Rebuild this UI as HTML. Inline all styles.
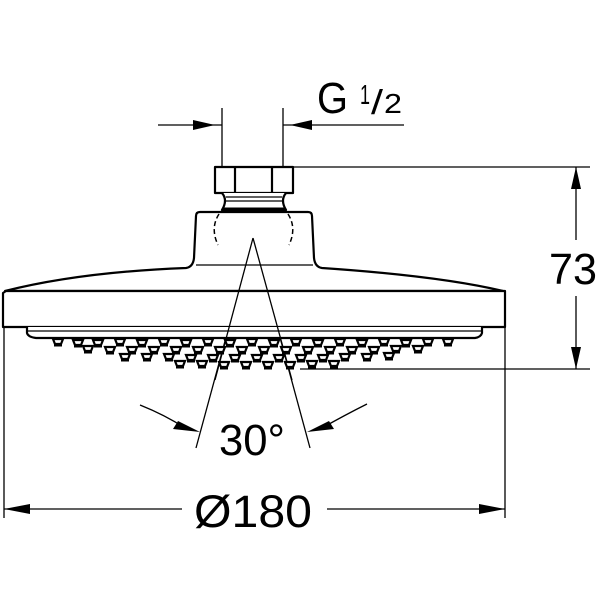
<!DOCTYPE html>
<html><head><meta charset="utf-8"><style>html,body{margin:0;padding:0;background:#fff}svg{display:block}</style></head>
<body>
<svg width="600" height="600" viewBox="0 0 600 600" xmlns="http://www.w3.org/2000/svg">
<defs>
<g id="nz"><path d="M-5,-3 H5 L3,2 H-3 Z" fill="#fff" stroke="#000" stroke-width="2.2"/><rect x="-4" y="1.5" width="8" height="3" fill="#000"/></g>
</defs>
<g fill="none" stroke="#000" stroke-width="1.3">
<line x1="222" y1="108" x2="222" y2="167"/>
<line x1="283" y1="108" x2="283" y2="167"/>
<line x1="158" y1="125" x2="222" y2="125"/>
<line x1="283" y1="125" x2="404" y2="125"/>
<line x1="293" y1="167" x2="590" y2="167"/>
<line x1="300" y1="369" x2="590" y2="369"/>
<line x1="576" y1="167" x2="576" y2="240"/>
<line x1="576" y1="296" x2="576" y2="369"/>
<line x1="4" y1="292" x2="4" y2="518"/>
<line x1="505" y1="327" x2="505" y2="518"/>
<line x1="4" y1="509" x2="182" y2="509"/>
<line x1="327" y1="509" x2="505" y2="509"/>
<line x1="253" y1="238" x2="196" y2="448"/>
<line x1="253" y1="238" x2="310" y2="448"/>
<path d="M140,405 Q165,415 185,428"/>
<path d="M367,404 Q345,415 322,428"/>
</g>
<g fill="#000">
<polygon points="215,125 193,120 193,130"/>
<polygon points="290,125 312,120 312,130"/>
<polygon points="576,167 571,189 581,189"/>
<polygon points="576,369 571,347 581,347"/>
<polygon points="4,509 30,504 30,514"/>
<polygon points="505,509 479,504 479,514"/>
<polygon points="200,432 178,421 173,429"/>
<polygon points="307,432 329,421 334,429"/>
</g>
<g fill="#fff" stroke="#000" stroke-width="2.2" stroke-linejoin="round">
<path d="M5,291 Q80,272 186,268 Q193,267 194,258 L196,216 Q196,212 200,212 H308 Q312,212 312,216 L314,258 Q315,267 322,268 Q440,276 503,291 Z"/>
<path d="M3,293 L6,291 H505 V327 H3 Z"/>
<path d="M27,327 V333 Q28,337 36,338 H475 Q481,337 482,333 V327"/>
<line x1="28" y1="331" x2="481" y2="331" stroke-width="1.2"/>
<line x1="196" y1="265" x2="313" y2="265" stroke-width="1.2"/>
<rect x="215" y="167" width="78" height="26"/>
<line x1="235" y1="167" x2="235" y2="193"/>
<line x1="272" y1="167" x2="272" y2="193"/>
<path d="M222,193 Q228,200 222,210 H286 Q280,200 286,193"/>
</g>
<g stroke="#000" fill="none">
<line x1="226" y1="197" x2="282" y2="197" stroke-width="1.2"/>
<line x1="226" y1="201" x2="282" y2="201" stroke-width="1.2"/>
<line x1="223" y1="209" x2="285" y2="209" stroke-width="3"/>
<path d="M219,214 Q210,228 218,245" stroke-width="1.5" stroke-dasharray="5,3"/>
<path d="M288,214 Q297,228 289,245" stroke-width="1.5" stroke-dasharray="5,3"/>
<line x1="253" y1="238" x2="215" y2="380" stroke-width="1.3"/>
<line x1="253" y1="238" x2="292" y2="380" stroke-width="1.3"/>
</g>
<g>
<use href="#nz" x="58" y="342"/><use href="#nz" x="78" y="343"/><use href="#nz" x="98" y="343"/><use href="#nz" x="120" y="342"/><use href="#nz" x="142" y="343"/><use href="#nz" x="164" y="342"/><use href="#nz" x="186" y="343"/><use href="#nz" x="208" y="342"/><use href="#nz" x="230" y="343"/><use href="#nz" x="252" y="342"/><use href="#nz" x="274" y="343"/><use href="#nz" x="296" y="342"/><use href="#nz" x="318" y="343"/><use href="#nz" x="340" y="342"/><use href="#nz" x="362" y="343"/><use href="#nz" x="384" y="342"/><use href="#nz" x="406" y="343"/><use href="#nz" x="428" y="342"/><use href="#nz" x="448" y="342"/>
<use href="#nz" x="88" y="349"/><use href="#nz" x="110" y="350"/><use href="#nz" x="132" y="350"/><use href="#nz" x="154" y="350"/><use href="#nz" x="176" y="350"/><use href="#nz" x="198" y="350"/><use href="#nz" x="220" y="350"/><use href="#nz" x="242" y="350"/><use href="#nz" x="264" y="350"/><use href="#nz" x="286" y="350"/><use href="#nz" x="308" y="350"/><use href="#nz" x="330" y="350"/><use href="#nz" x="352" y="350"/><use href="#nz" x="374" y="350"/><use href="#nz" x="396" y="349"/><use href="#nz" x="418" y="349"/>
<use href="#nz" x="125" y="357"/><use href="#nz" x="147" y="357"/><use href="#nz" x="169" y="357"/><use href="#nz" x="191" y="358"/><use href="#nz" x="213" y="358"/><use href="#nz" x="235" y="358"/><use href="#nz" x="257" y="358"/><use href="#nz" x="279" y="358"/><use href="#nz" x="301" y="358"/><use href="#nz" x="323" y="358"/><use href="#nz" x="345" y="357"/><use href="#nz" x="367" y="357"/><use href="#nz" x="389" y="356"/>
<use href="#nz" x="180" y="364"/><use href="#nz" x="202" y="364"/><use href="#nz" x="224" y="365"/><use href="#nz" x="246" y="365"/><use href="#nz" x="268" y="365"/><use href="#nz" x="290" y="365"/><use href="#nz" x="312" y="364"/><use href="#nz" x="334" y="364"/>
</g>
<g font-family="Liberation Sans, Arial, sans-serif" fill="#000">
<text x="317" y="113" font-size="44" textLength="31" lengthAdjust="spacingAndGlyphs">G</text>
<text x="360" y="104" font-size="28" textLength="10" lengthAdjust="spacingAndGlyphs">1</text>
<text x="371" y="114" font-size="34" textLength="12" lengthAdjust="spacingAndGlyphs">/</text>
<text x="384" y="113" font-size="28" textLength="18" lengthAdjust="spacingAndGlyphs">2</text>
<text x="549" y="284" font-size="44" textLength="48" lengthAdjust="spacingAndGlyphs">73</text>
<text x="219" y="455" font-size="44" textLength="66" lengthAdjust="spacingAndGlyphs">30°</text>
<text x="194" y="527" font-size="45" textLength="118" lengthAdjust="spacingAndGlyphs">Ø180</text>
</g>
</svg>
</body></html>
